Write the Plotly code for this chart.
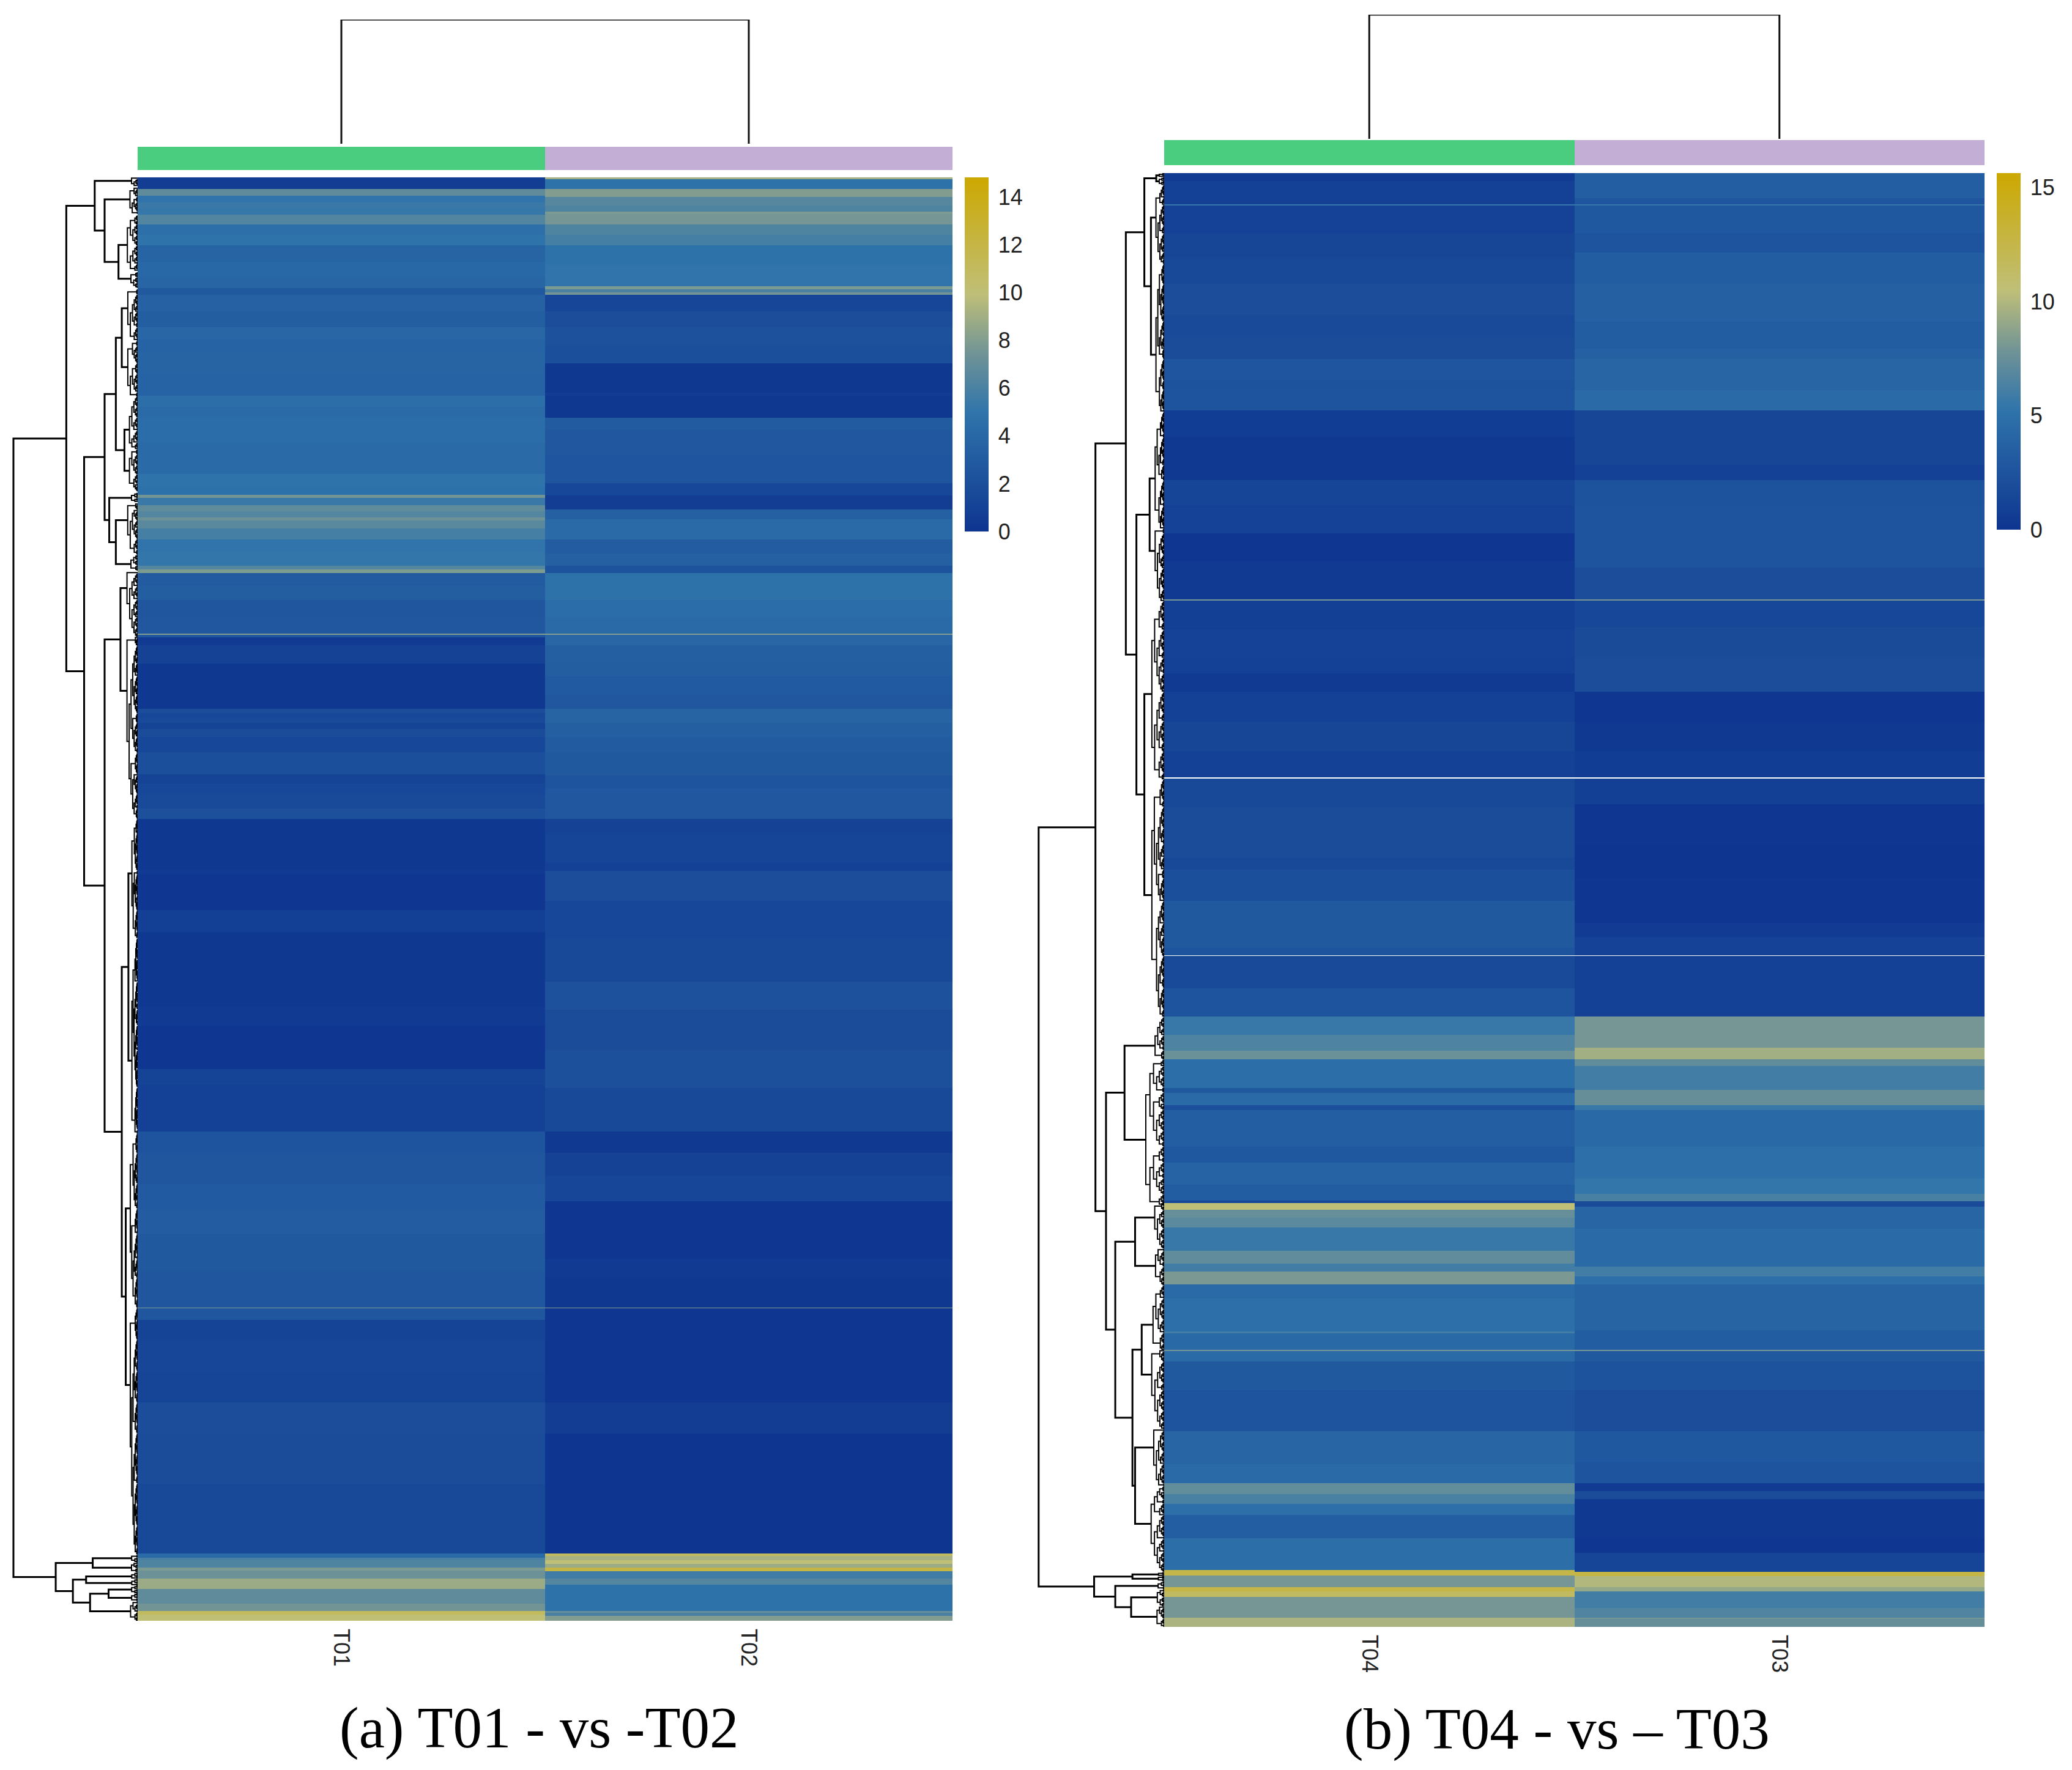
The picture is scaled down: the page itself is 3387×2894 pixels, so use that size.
import plotly.graph_objects as go

W, H = 3387, 2894
IMG = 2.16

# ---- panel (a) bands: row ends and values per column, in reading order (None = blank row)
t01_ends_1 = [47,68,90,110,130,160,195,228,280,330,365,387,440,490,530,570,640,710,745,780,860,960,1000,1027,1037,1060,1080,1100,1110,1135,1170,1210,1255,1266,1278,1320,1365,1420,1473,1476,1485,1510,1568]
t01_vals_1 = [0.6,6.8,5.0,5.4,5.2,6.3,4.6,4.9,3.7,4.0,3.8,2.8,3.5,3.2,3.9,3.6,3.7,3.6,4.5,4.2,4.4,4.2,4.9,4.7,7.5,5.4,6.8,6.4,7.3,6.6,5.8,5.0,5.1,6.4,7.9,3.0,3.2,2.6,2.7,8.0,2.7,0.4,1.0]
t02_ends_1 = [15,47,72,100,120,128,160,195,228,290,358,368,378,387,440,490,550,605,700,710,780,820,900,990,1030,1075,1105,1170,1215,1255,1278,1365,1420,1473,1476,1510,1568]
t02_vals_1 = [9.0,4.8,8.0,6.5,6.2,7.8,7.6,6.2,5.8,4.8,5.0,7.8,6.0,7.5,1.3,1.9,2.2,2.0,0.2,0.6,0.2,3.0,2.7,2.5,1.4,0.6,3.4,4.2,3.1,3.4,2.3,4.8,4.4,4.2,8.0,3.9,3.3]
t01_ends_2 = [145,160,175,190,210,235,285,355,385,420,465,498,660,675,790,860,1100,1160,1300,1350,1500,1568]
t01_vals_2 = [0.2,1.9,1.4,1.6,1.1,1.8,1.4,2.0,1.1,1.4,1.6,2.1,0.2,0.5,0.1,0.8,0.2,0.5,0.1,1.1,0.9,2.4]
t02_ends_2 = [40,100,145,190,235,285,360,400,498,545,640,665,760,880,1020,1110,1240,1360,1500,1568]
t02_vals_2 = [3.2,2.9,2.7,3.7,3.3,3.0,2.8,2.4,2.7,1.0,1.2,0.9,1.9,1.4,1.5,2.2,1.8,2.1,1.5,0.3]
t01_ends_3 = [100,180,260,380,496,499,535,600,700,800,900,1060,1285,1298,1305,1330,1340,1365,1398,1445,1468,1480,1500]
t01_vals_3 = [2.6,2.9,3.1,2.8,2.6,8.0,2.6,1.1,1.3,1.2,1.9,1.8,1.5,4.2,6.0,6.2,7.8,7.3,8.8,6.8,7.5,11.0,10.0]
t02_ends_3 = [75,155,340,400,496,499,800,900,1285,1292,1305,1318,1330,1342,1365,1385,1468,1475,1485,1500]
t02_vals_3 = [1.0,1.3,0.1,0.4,0.2,8.0,0.1,0.6,0.05,11.0,9.2,10.0,8.8,12.0,5.6,6.4,4.8,7.0,6.0,8.0]

# ---- panel (b) bands
t04_ends_1 = [40,115,118,210,290,370,470,540,610,680,710,775,860,1000,1080,1170,1260,1382,1385,1480,1568]
t04_vals_1 = [0.5,0.9,5.5,1.1,1.4,1.6,2.0,1.7,1.9,2.7,2.4,2.5,0.7,0.3,1.3,1.1,0.2,0.4,8.0,0.8,1.1]
t03_ends_1 = [95,115,118,210,270,370,490,580,610,710,775,950,1000,1080,1170,1280,1382,1385,1470,1568]
t03_vals_1 = [3.4,2.7,5.5,2.9,2.6,3.2,3.6,3.2,3.6,4.0,4.4,1.4,1.0,2.4,2.6,2.6,2.0,8.0,1.5,1.8]
t04_ends_2 = [50,110,205,300,384,387,480,640,680,780,930,954,957,1060,1150,1210,1260,1288,1380,1395,1435,1450,1568]
t04_vals_2 = [0.9,0.5,1.0,1.4,1.0,None,1.6,1.9,1.6,2.2,3.0,2.6,None,1.7,2.5,5.6,6.5,7.6,4.7,3.0,4.5,2.2,3.4]
t03_ends_2 = [110,205,300,384,387,470,600,710,850,895,954,957,1150,1250,1288,1310,1385,1435,1450,1568]
t03_vals_2 = [2.0,0.2,0.3,0.7,None,0.8,0.2,0.05,0.1,0.6,1.1,None,0.9,8.0,9.5,7.2,6.0,7.4,5.6,4.3]
t04_ends_3 = [50,120,170,178,200,225,255,330,370,395,435,480,585,590,643,646,680,770,900,1005,1065,1100,1130,1165,1240,1340,1358,1395,1408,1425,1490,1520]
t04_vals_3 = [2.9,3.8,3.2,1.5,10.5,7.5,7.0,5.6,7.2,6.0,8.2,4.4,4.9,6.0,4.3,8.0,4.5,3.0,2.6,4.0,4.4,7.3,6.3,4.9,3.4,4.7,12.5,8.0,12.5,11.5,8.0,9.8]
t03_ends_3 = [100,150,172,190,260,380,410,435,580,643,646,680,770,900,1000,1065,1090,1115,1240,1285,1345,1360,1395,1408,1460,1490,1495,1520]
t03_vals_3 = [4.8,5.4,6.2,1.8,4.0,4.5,6.0,4.8,3.9,3.2,8.0,3.0,2.4,2.0,2.9,2.5,0.5,1.9,0.3,0.1,1.3,12.7,10.0,9.0,6.0,6.6,8.0,7.4]

samples_a = ["T01", "T02"]
samples_b = ["T04", "T03"]
cbar_ticks_a = [0, 2, 4, 6, 8, 10, 12, 14]
cbar_ticks_b = [0, 5, 10, 15]
zmax_a, zmax_b = 14.83, 15.63
title_a = "(a) T01 - vs -T02"
title_b = "(b) T04 - vs \u2013 T03"

color_stops = [[0, "#0e3590"], [0.335, "#2f74ab"], [0.5, "#6f9396"], [0.67, "#bfbf78"], [1, "#cca800"]]
bar_colors = [[0, "#4acd7e"], [1, "#c3aed6"]]

# Row dendrograms: (distance, upper child, lower child); a leaf is (first row, last row) on the row scale
tree_a = (94,
  (54,
    (32.5, (134.3, 141),
      (25, (142, 162), (14.5, (163, 205), (206, 218)))),
    (40.5,
      (25,
        (16.5, (12, (219, 258), (258, 300)), (10, (300, 340), (340, 372))),
        (21.5, (373, 380), (16.5, (381, 420), (420, 432)))),
      (25,
        (13, (433, 482), (482, 620)),
        (12, (7, (620, 710), (710, 858)), (9, (858, 990), (990, 1177)))))),
  (62,
    (34, (1177, 1183), (1183, 1190)),
    (49,
      (39, (1190, 1195), (1195, 1200)),
      (36, (22, (1200, 1206), (1206, 1212)), (1212, 1226.9)))))
tree_b = (95,
  (52,
    (29,
      (15, (6, (131, 134), (134, 140)), (10, (140, 200), (200, 312))),
      (21,
        (11, (312, 400), (400, 455)),
        (15, (455, 590), (590, 770)))),
    (44,
      (30, (770, 802), (802, 912)),
      (37,
        (22, (910, 945), (945, 973)),
        (24, (17, (973, 1022), (1022, 1082)), (22, (1082, 1125), (1125, 1190)))))),
  (53,
    (24, (1190, 1193), (1193, 1197)),
    (37, (1197, 1203), (25, (1203, 1216), (1216, 1231.5)))))


def merge(parts):
    """parts: (ends, vals, offset, scale) -> absolute row ends and values"""
    ends, vals = [], []
    for e, v, off, sc in parts:
        ends += [x * sc + off for x in e]
        vals += list(v)
    return ends, vals


def grid(col1, col2):
    edges = sorted({0.0} | {round(x, 3) for x in col1[0]} | {round(x, 3) for x in col2[0]})
    def look(col, top):
        for e, v in zip(*col):
            if top < round(e, 3):
                return v
        return col[1][-1]
    z = [[look(col1, a), look(col2, a)] for a in edges[:-1]]
    return edges, z


a1 = merge([(t01_ends_1, t01_vals_1, -10, 1), (t01_ends_2, t01_vals_2, 1558, 1), (t01_ends_3, t01_vals_3, 3126, 1)])
a2 = merge([(t02_ends_1, t02_vals_1, -10, 1), (t02_ends_2, t02_vals_2, 1558, 1), (t02_ends_3, t02_vals_3, 3126, 1)])
b1 = merge([(t04_ends_1, t04_vals_1, -15, 1), (t04_ends_2, t04_vals_2, 1553, 1), (t04_ends_3, t04_vals_3, 3121, 1.0124)])
b2 = merge([(t03_ends_1, t03_vals_1, -15, 1), (t03_ends_2, t03_vals_2, 1553, 1), (t03_ends_3, t03_vals_3, 3121, 1.0124)])
edges_a, z_a = grid(a1, a2)
edges_b, z_b = grid(b1, b2)


def dom(p0, p1, size, flip=False):
    return [1 - p1 / size, 1 - p0 / size] if flip else [p0 / size, p1 / size]


def comb(y0, y1, top, seg, rows):
    """Fine branches inside one leaf cluster, joined neighbour by neighbour from the row values."""
    n = max(2, int((y1 - y0) / 1.0))
    ys = [y0 + (y1 - y0) * (i + 0.5) / n for i in range(n)]
    r0, r1, edges, z = rows
    def val(y):
        r = (y - r0) / (r1 - r0) * edges[-1]
        lo = 0
        for i in range(len(edges) - 1):
            if edges[i] <= r < edges[i + 1]:
                lo = i
                break
        v = z[lo]
        return (v[0] or 0, v[1] or 0)
    nodes = [(y, 0, val(y)) for y in ys]
    raw = []
    while len(nodes) > 1:
        best, bk = 0, None
        for i in range(len(nodes) - 1):
            a, b = nodes[i], nodes[i + 1]
            k = (max(a[1], b[1]), abs(a[2][0] - b[2][0]) + abs(a[2][1] - b[2][1]))
            if bk is None or k < bk:
                best, bk = i, k
        a, b = nodes[best], nodes[best + 1]
        h = max(a[1], b[1]) + 1
        raw.append((a[0], a[1], b[0], b[1], h))
        nodes[best:best + 2] = [((a[0] + b[0]) / 2, h, a[2])]
    root_y, root_h = nodes[0][0], nodes[0][1]
    scale = lambda h: top * (h / root_h) ** 1.9
    for ya, ha, yb, hb, h in raw:
        hh = scale(h)
        seg[0] += [scale(ha), hh, hh, scale(hb), None]
        seg[1] += [ya, ya, yb, yb, None]
    return root_y, top


def walk(node, parent, main, fine, rows):
    if len(node) == 2:
        cap = min(parent * 0.62, 4 + (node[1] - node[0]) * 0.09)
        return comb(node[0], node[1], cap, fine, rows)
    d, a, b = node
    ya, ha = walk(a, d, main, fine, rows)
    yb, hb = walk(b, d, main, fine, rows)
    main[0] += [ha, d, d, hb, None]
    main[1] += [ya, ya, yb, yb, None]
    return (ya + yb) / 2, d


fig = go.Figure()
layout = {}
axis_n = [0]


def new_axes(xdom, ydom, xr, yr, **xkw):
    axis_n[0] += 1
    n = axis_n[0]
    suffix = "" if n == 1 else str(n)
    base = dict(showgrid=False, zeroline=False, showline=False, showticklabels=False, ticks="", fixedrange=True)
    layout["xaxis" + suffix] = {**base, "domain": xdom, "range": xr, "anchor": "y" + suffix, **xkw}
    layout["yaxis" + suffix] = {**base, "domain": ydom, "range": yr, "anchor": "x" + suffix}
    return "x" + suffix, "y" + suffix


def panel(edges, z, names, zmax, ticks, tree, hx0, hxm, hx1, hy0, hy1, by0, by1, dy0, dy1, cx0, cx1, cy1):
    ydom = dom(hy0, hy1, H, True)
    x, y = new_axes(dom(hx0, hx1, W), ydom, [0, 2], [edges[-1], 0],
                    showticklabels=True, tickmode="array", tickvals=[0.5, 1.5], ticktext=names,
                    tickangle=90, ticklabelstandoff=12,
                    tickfont=dict(family="Liberation Sans", size=36, color="#222222"))
    fig.add_trace(go.Heatmap(
        x=[0, 1, 2], y=edges, z=z, xaxis=x, yaxis=y, zmin=0, zmax=zmax, colorscale=color_stops,
        hoverongaps=False,
        colorbar=dict(x=cx0 / W, xanchor="left", xpad=0, ypad=0, y=1 - hy0 / H, yanchor="top",
                      len=(cy1 - hy0) / H, lenmode="fraction", thickness=cx1 - cx0, thicknessmode="pixels",
                      outlinewidth=0, borderwidth=0, tickmode="array", tickvals=ticks,
                      ticktext=[str(t) for t in ticks], ticks="outside", ticklen=9, tickwidth=1,
                      tickcolor="rgba(255,255,255,0)",
                      tickfont=dict(family="Liberation Sans", size=36, color="#222222"))))
    # annotation strip
    x, y = new_axes(dom(hx0, hx1, W), dom(by0, by1, H, True), [0, 2], [0, 1])
    fig.add_trace(go.Heatmap(x=[0, 1, 2], y=[0, 1], z=[[0, 1]], xaxis=x, yaxis=y, zmin=0, zmax=1,
                             colorscale=bar_colors, showscale=False, hoverinfo="skip"))
    # column dendrogram
    x, y = new_axes(dom(hx0, hx1, W), dom(dy0, dy1, H, True), [0, 2], [0, 1])
    fig.add_trace(go.Scatter(x=[0.5, 0.5, 1.5, 1.5], y=[0, 1, 1, 0], mode="lines", xaxis=x, yaxis=y,
                             line=dict(color="#111111", width=3), hoverinfo="skip", showlegend=False))
    # row dendrogram
    span = hx0 / IMG
    x, y = new_axes(dom(0, hx0, W) if hx0 < 1000 else dom(hx0 - 240, hx0, W),
                    ydom, [span if hx0 < 1000 else 240 / IMG, 0], [hy1 / IMG, hy0 / IMG])
    main, fine = [[], []], [[], []]
    walk(tree, 200, main, fine, (hy0 / IMG, hy1 / IMG, edges, z))
    fig.add_trace(go.Scatter(x=fine[0], y=fine[1], mode="lines", xaxis=x, yaxis=y,
                             line=dict(color="#000000", width=2), hoverinfo="skip", showlegend=False))
    fig.add_trace(go.Scatter(x=main[0], y=main[1], mode="lines", xaxis=x, yaxis=y,
                             line=dict(color="#000000", width=3), hoverinfo="skip", showlegend=False))


panel(edges_a, z_a, samples_a, zmax_a, cbar_ticks_a, tree_a, 225, 891, 1557, 290, 2650, 240, 278, 32, 235, 1577, 1616, 869)
panel(edges_b, z_b, samples_b, zmax_b, cbar_ticks_b, tree_b, 1903, 2573, 3244, 283, 2660, 229, 270, 24, 227, 3264, 3303, 866)

annots = [
    dict(text=title_a, x=881 / W, y=1 - 2825 / H, xref="paper", yref="paper", showarrow=False,
         xanchor="center", yanchor="middle", font=dict(family="Liberation Serif", size=95, color="#000000")),
    dict(text=title_b, x=2545 / W, y=1 - 2827 / H, xref="paper", yref="paper", showarrow=False,
         xanchor="center", yanchor="middle", font=dict(family="Liberation Serif", size=95, color="#000000")),
]

fig.update_layout(width=W, height=H, autosize=False, margin=dict(l=0, r=0, t=0, b=0, pad=0),
                  paper_bgcolor="white", plot_bgcolor="white", showlegend=False, annotations=annots, **layout)
fig.write_html("out.html", post_script="document.body.style.margin='0';", config={"displayModeBar": False})
